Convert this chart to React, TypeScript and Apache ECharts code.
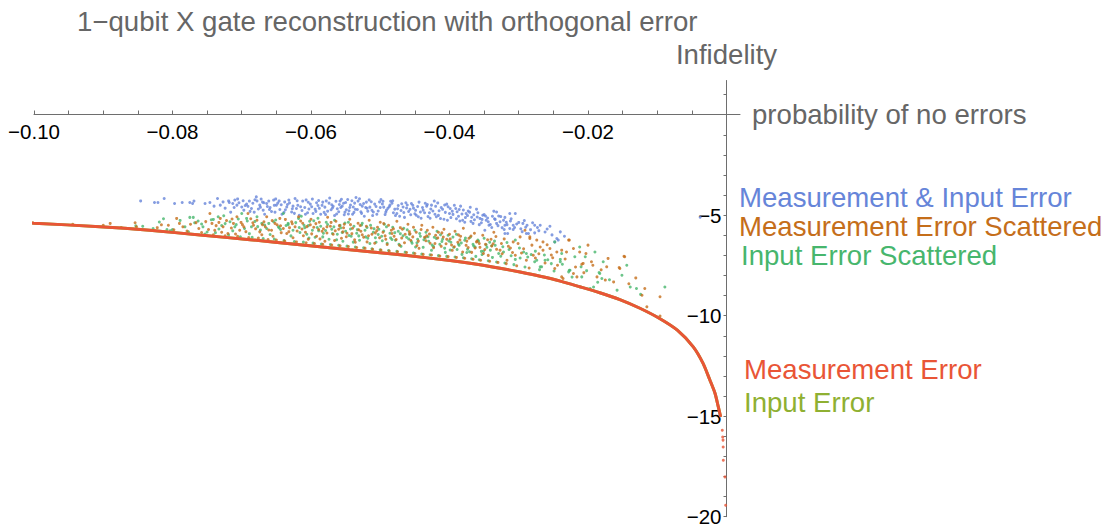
import { useEffect, useRef } from "react";
import * as echarts from "echarts";

// Axis ticks (probability of no errors on x, log infidelity on y)
const xTickValues = [-0.1, -0.095, -0.09, -0.085, -0.08, -0.075, -0.07, -0.065, -0.06, -0.055, -0.05, -0.045, -0.04, -0.035, -0.03, -0.025, -0.02, -0.015, -0.01, -0.005, 0];
const xLabelValues = [-0.1, -0.08, -0.06, -0.04, -0.02];
const yTickValues = [-20, -19, -18, -17, -16, -15, -14, -13, -12, -11, -10, -9, -8, -7, -6, -5, -4, -3, -2, -1, 0, 1];
const yLabelValues = [-20, -15, -10, -5];

// Measurement error only (input error follows the same curve)
const measurementErrorCurve: [number, number][] = [
  [-0.1038, -5.33], [-0.1, -5.4], [-0.0905, -5.57], [-0.0833, -5.75], [-0.076, -5.99], [-0.0688, -6.22],
  [-0.0616, -6.47], [-0.0544, -6.72], [-0.0471, -6.97], [-0.0399, -7.26], [-0.0363, -7.43], [-0.0327, -7.64],
  [-0.0298, -7.83], [-0.0269, -8.04], [-0.024, -8.28], [-0.0212, -8.56], [-0.0183, -8.86], [-0.0154, -9.2],
  [-0.0125, -9.63], [-0.0096, -10.15], [-0.0071, -10.72], [-0.0048, -11.55], [-0.0034, -12.36], [-0.0024, -13.2],
  [-0.00166, -13.86], [-0.00118, -14.54], [-0.00084, -15.03],
];
const measurementErrorTail: [number, number][] = [
  [-0.00061, -15.7], [-0.00055, -16.04], [-0.0005, -16.19], [-0.00048, -16.53], [-0.00046, -17.19],
  [-0.00022, -18.02], [-0.00012, -19.43],
];

const measurementAndInput: [number, number][] = [
  [-0.0846, -4.29], [-0.0826, -4.37], [-0.0821, -4.37], [-0.0812, -4.17], [-0.0797, -4.42], [-0.0786, -4.37],
  [-0.0775, -4.37], [-0.0769, -4.3], [-0.0771, -4.42], [-0.0753, -4.42], [-0.0746, -4.37], [-0.0735, -4.17],
  [-0.074, -4.55], [-0.0731, -4.5], [-0.0727, -4.34], [-0.0719, -4.29], [-0.0713, -4.42], [-0.071, -4.25],
  [-0.0707, -4.5], [-0.07, -4.59], [-0.0693, -4.45], [-0.0686, -4.67], [-0.0679, -4.09], [-0.0678, -4.29],
  [-0.0674, -4.5], [-0.0669, -4.75], [-0.0664, -4.42], [-0.0659, -4.62], [-0.0654, -4.25], [-0.065, -4.5],
  [-0.0645, -4.72], [-0.0638, -4.34], [-0.0635, -4.59], [-0.0628, -4.84], [-0.0623, -4.17], [-0.0621, -4.67],
  [-0.0724, -4.65], [-0.0716, -4.85], [-0.0704, -4.38], [-0.0697, -4.75], [-0.0689, -4.3], [-0.0682, -4.85],
  [-0.0672, -4.2], [-0.0667, -4.95], [-0.0661, -4.3], [-0.0652, -4.85], [-0.0648, -4.4], [-0.0642, -4.95],
  [-0.0632, -4.25], [-0.0626, -4.55], [-0.0617, -5.0],
  [-0.0612, -4.3], [-0.0609, -4.62], [-0.0605, -4.88], [-0.0601, -4.45], [-0.0598, -4.2], [-0.0594, -4.7],
  [-0.059, -4.52], [-0.0586, -4.95], [-0.0583, -4.35], [-0.058, -4.6], [-0.0576, -4.8], [-0.0573, -4.15],
  [-0.057, -4.48], [-0.0566, -5.02], [-0.0562, -4.68], [-0.0558, -4.3], [-0.0555, -4.55], [-0.0551, -4.85],
  [-0.0547, -4.22], [-0.0544, -4.62], [-0.054, -4.95], [-0.0537, -4.4], [-0.0533, -4.72], [-0.053, -4.18],
  [-0.0526, -4.55], [-0.0523, -5.05], [-0.052, -4.35], [-0.0518, -4.8], [-0.0515, -4.6],
  [-0.051, -4.84], [-0.0501, -4.34], [-0.0499, -4.22], [-0.0491, -4.75], [-0.0486, -4.5], [-0.0476, -4.92],
  [-0.0467, -4.59], [-0.0455, -4.42], [-0.0448, -5.0], [-0.0438, -4.75], [-0.0426, -4.5], [-0.0419, -5.08],
  [-0.0412, -4.62], [-0.04, -4.92], [-0.0391, -4.67], [-0.0381, -5.25], [-0.0376, -4.92], [-0.0366, -5.41],
  [-0.0356, -5.16], [-0.0347, -5.25], [-0.0349, -5.75], [-0.0332, -4.84], [-0.0332, -5.41], [-0.0322, -5.25],
  [-0.0316, -5.91], [-0.0305, -4.92], [-0.0308, -5.5], [-0.0288, -5.5], [-0.0286, -5.91], [-0.0269, -5.5],
  [-0.024, -5.83], [-0.0243, -6.24], [-0.0248, -6.33],
  [-0.0327, -5.33], [-0.032, -5.11], [-0.0313, -4.92], [-0.032, -5.5], [-0.0313, -5.66], [-0.0308, -5.71],
  [-0.0294, -5.41], [-0.0277, -5.5], [-0.0289, -5.91], [-0.0277, -5.88], [-0.0245, -6.16], [-0.032, -5.91],
  [-0.0495, -4.6], [-0.0482, -4.28], [-0.0479, -4.7], [-0.0472, -5.05], [-0.0463, -4.38], [-0.0459, -4.82],
  [-0.0452, -4.65], [-0.0444, -4.35], [-0.0441, -5.15], [-0.0433, -4.55], [-0.0429, -4.88], [-0.0422, -4.3],
  [-0.0415, -4.78], [-0.0408, -5.2], [-0.0404, -4.45], [-0.0396, -4.8], [-0.0387, -5.05], [-0.0384, -4.55],
  [-0.0378, -5.35], [-0.0371, -4.85], [-0.0368, -5.1], [-0.0361, -4.7], [-0.0352, -5.0], [-0.0343, -5.5],
  [-0.0338, -5.05], [-0.0336, -4.8], [-0.0038, -5.1],
  [-0.0553, -4.41], [-0.0549, -4.73], [-0.0541, -4.28], [-0.0538, -4.86], [-0.0529, -4.47], [-0.0527, -4.91],
  [-0.0521, -4.62], [-0.0513, -4.33], [-0.0511, -5.02], [-0.0506, -4.57], [-0.0503, -4.79], [-0.0497, -4.44],
  [-0.0493, -4.97], [-0.0489, -4.66], [-0.0485, -4.31], [-0.0481, -4.88], [-0.0474, -4.52], [-0.047, -4.77],
  [-0.0465, -5.11], [-0.0461, -4.49], [-0.0457, -4.71], [-0.045, -4.93], [-0.0446, -4.57], [-0.0442, -4.84],
  [-0.0435, -4.41], [-0.0431, -5.07], [-0.0427, -4.69], [-0.0421, -4.95], [-0.0417, -4.39], [-0.0413, -5.17],
  [-0.0406, -4.86], [-0.0402, -4.58], [-0.0398, -5.12], [-0.0393, -4.51], [-0.0389, -4.83], [-0.0385, -5.29],
  [-0.038, -4.74], [-0.0374, -5.02], [-0.037, -4.61], [-0.0364, -5.23], [-0.0359, -4.88], [-0.0354, -5.38],
  [-0.035, -4.97], [-0.0345, -5.14], [-0.0341, -5.46], [-0.0334, -5.21], [-0.0329, -5.04], [-0.0324, -5.62],
  [-0.0318, -5.35], [-0.0311, -5.18], [-0.0303, -5.44], [-0.0297, -5.68], [-0.0292, -5.27], [-0.0283, -5.72],
  [-0.0273, -5.61], [-0.0262, -5.84], [-0.0255, -5.55], [-0.0234, -6.05],
  [-0.0698, -4.28], [-0.0691, -4.56], [-0.0684, -4.41], [-0.0676, -4.69], [-0.067, -4.35], [-0.0663, -4.57],
  [-0.0657, -4.82], [-0.0651, -4.19], [-0.0643, -4.48], [-0.0637, -4.73], [-0.0631, -4.39], [-0.0624, -4.91],
  [-0.0619, -4.51], [-0.0613, -4.77], [-0.0607, -4.24], [-0.0603, -4.69], [-0.0597, -4.92], [-0.0592, -4.38],
  [-0.0588, -4.66], [-0.0581, -4.86], [-0.0578, -4.29], [-0.0571, -4.73], [-0.0568, -4.56], [-0.0563, -4.94],
  [-0.0559, -4.47], [-0.0556, -4.21], [-0.0552, -4.98], [-0.0545, -4.78], [-0.0539, -4.59], [-0.0535, -4.12],
  [-0.0718, -4.37], [-0.0711, -4.62], [-0.0706, -4.19], [-0.0695, -4.52], [-0.0688, -4.81], [-0.0681, -4.23],
  [-0.0673, -4.61], [-0.0668, -4.38], [-0.066, -4.72], [-0.0653, -4.51], [-0.0646, -4.29], [-0.0639, -4.86],
  [-0.0634, -4.47], [-0.0627, -4.68], [-0.062, -4.28], [-0.0615, -4.58], [-0.0608, -4.95], [-0.0604, -4.36],
  [-0.0599, -4.58], [-0.0593, -4.81], [-0.0589, -4.27], [-0.0584, -4.51], [-0.0579, -4.97], [-0.0574, -4.4],
  [-0.0569, -4.64], [-0.0564, -4.31], [-0.056, -4.83], [-0.0557, -4.62], [-0.055, -4.37], [-0.0546, -4.94],
  [-0.0543, -4.49], [-0.0536, -4.71], [-0.0532, -4.3], [-0.0528, -4.83], [-0.0524, -4.42], [-0.0519, -4.66],
  [-0.0516, -4.24], [-0.0512, -4.76], [-0.0508, -4.45], [-0.0505, -4.95], [-0.05, -4.62], [-0.0496, -4.31],
  [-0.0492, -4.85], [-0.0487, -4.58], [-0.0483, -4.41], [-0.0478, -5.02], [-0.0475, -4.68], [-0.0469, -4.43],
  [-0.0466, -4.87], [-0.0462, -4.64], [-0.0456, -4.98], [-0.0453, -4.51], [-0.0449, -4.76], [-0.0445, -5.08],
  [-0.0439, -4.62], [-0.0436, -4.88], [-0.0432, -4.47], [-0.0428, -5.15], [-0.0424, -4.79], [-0.042, -4.56],
  [-0.0416, -5.01], [-0.041, -4.71], [-0.0407, -4.49], [-0.0403, -5.25], [-0.0399, -4.67], [-0.0395, -4.96],
  [-0.039, -5.18], [-0.0386, -4.72], [-0.0382, -4.94], [-0.0377, -5.12], [-0.0373, -4.79], [-0.0369, -5.31],
  [-0.0365, -4.98], [-0.036, -5.09], [-0.0357, -5.47], [-0.0353, -5.21], [-0.0348, -5.04], [-0.0344, -5.33],
  [-0.0339, -5.61], [-0.0335, -5.18], [-0.033, -5.52], [-0.0326, -5.07], [-0.0321, -5.71], [-0.0317, -5.47],
  [-0.0312, -5.29], [-0.0306, -5.61], [-0.03, -5.36], [-0.0295, -5.82], [-0.029, -5.6], [-0.028, -5.38],
  [-0.0271, -5.77], [-0.0259, -5.69], [-0.0252, -5.98],
];

const measurementScattered: [number, number][] = [
  [-0.0944, -5.45], [-0.09, -5.5], [-0.089, -5.41], [-0.0874, -5.61], [-0.0854, -5.38], [-0.0852, -5.58],
  [-0.0806, -5.5], [-0.0794, -5.16], [-0.0785, -5.58], [-0.0774, -5.45], [-0.0762, -5.66], [-0.0746, -4.92],
  [-0.0743, -5.41], [-0.0739, -5.75], [-0.0731, -5.16], [-0.0727, -5.58], [-0.072, -5.91], [-0.0712, -5.41],
  [-0.0707, -5.08], [-0.0703, -5.75], [-0.0697, -5.58], [-0.0691, -4.92], [-0.0683, -5.5], [-0.0678, -5.25],
  [-0.0674, -5.83], [-0.0666, -5.58], [-0.0664, -5.08], [-0.0657, -5.75], [-0.0652, -5.41], [-0.0645, -5.16],
  [-0.064, -5.66], [-0.0635, -5.91], [-0.0628, -5.33], [-0.0623, -5.58], [-0.0618, -5.08],
  [-0.0612, -5.4], [-0.0608, -5.85], [-0.0604, -6.2], [-0.06, -5.2], [-0.0596, -5.6], [-0.0592, -6.05],
  [-0.0588, -5.35], [-0.0584, -5.8], [-0.058, -6.3], [-0.0576, -5.1], [-0.0572, -5.55], [-0.0568, -5.95],
  [-0.0564, -5.3], [-0.056, -5.7], [-0.0556, -6.15], [-0.0552, -5.45], [-0.0548, -5.9], [-0.0544, -5.2],
  [-0.054, -5.65], [-0.0536, -6.35], [-0.0532, -5.4], [-0.0528, -5.8], [-0.0524, -6.1], [-0.052, -5.55],
  [-0.0516, -5.25], [-0.0512, -5.95], [-0.0508, -6.4], [-0.0504, -5.6], [-0.05, -5.35], [-0.0496, -5.85],
  [-0.0492, -6.2], [-0.0488, -5.5], [-0.0484, -5.75], [-0.048, -6.05], [-0.0476, -5.3], [-0.0472, -6.5],
  [-0.0468, -5.7], [-0.0464, -5.95], [-0.046, -5.45], [-0.0456, -6.25], [-0.0452, -5.6], [-0.0448, -5.85],
  [-0.0444, -6.65], [-0.044, -5.5], [-0.0436, -6.1], [-0.0432, -5.75], [-0.0428, -6.4], [-0.0424, -5.6],
  [-0.042, -6.0], [-0.0416, -5.85], [-0.0412, -6.55], [-0.0408, -5.7], [-0.0404, -6.2], [-0.04, -5.95],
  [-0.0396, -6.75], [-0.0392, -5.8], [-0.0388, -6.35], [-0.0384, -6.05], [-0.038, -5.65], [-0.0376, -6.5],
  [-0.0372, -6.15], [-0.0368, -6.85], [-0.0364, -5.9], [-0.036, -6.3], [-0.0356, -6.6], [-0.0352, -6.0],
  [-0.0348, -6.45], [-0.0344, -7.0], [-0.034, -6.2], [-0.0336, -5.85], [-0.0332, -6.7],
  [-0.0325, -6.41], [-0.0308, -6.33], [-0.0298, -6.08], [-0.0291, -5.75], [-0.0284, -6.16], [-0.0274, -6.24],
  [-0.0265, -6.33], [-0.0255, -6.66], [-0.0245, -6.83], [-0.0228, -6.24], [-0.0221, -6.66], [-0.0212, -6.83],
  [-0.02, -6.49], [-0.0207, -7.4], [-0.0171, -7.15], [-0.0147, -7.07], [-0.0173, -7.57], [-0.0154, -7.65],
  [-0.0187, -8.07], [-0.0175, -8.23], [-0.0238, -8.07], [-0.0236, -8.15], [-0.0216, -8.07], [-0.0317, -7.24],
  [-0.0305, -6.99], [-0.0289, -7.24], [-0.0279, -6.99], [-0.0265, -6.74], [-0.0248, -7.65], [-0.0118, -8.65],
  [-0.0096, -9.06], [-0.0115, -9.56], [-0.0122, -8.98], [-0.0231, -6.83], [-0.0203, -6.91], [-0.0148, -7.04],
  [-0.0195, -7.32], [-0.0155, -7.6], [-0.0209, -7.44], [-0.0221, -7.9], [-0.0096, -10.02], [-0.0284, -6.08],
  [-0.0269, -6.58], [-0.0238, -6.74], [-0.0227, -6.24],
  [-0.0752, -5.32], [-0.0748, -5.71], [-0.0737, -5.52], [-0.0729, -5.85], [-0.0722, -5.27], [-0.0715, -5.64],
  [-0.0709, -5.94], [-0.0701, -5.36], [-0.0694, -5.82], [-0.0687, -5.18], [-0.068, -5.68], [-0.0671, -5.97],
  [-0.0668, -5.33], [-0.0661, -5.74], [-0.0655, -6.05], [-0.0649, -5.48], [-0.0643, -5.87], [-0.0637, -5.21],
  [-0.0631, -5.62], [-0.0626, -6.12], [-0.062, -5.79], [-0.0615, -5.29], [-0.0611, -6.02], [-0.0606, -5.57],
  [-0.0599, -5.93], [-0.0593, -5.42], [-0.0587, -6.18], [-0.0582, -5.68], [-0.0577, -5.89], [-0.0571, -5.36],
  [-0.0566, -6.26], [-0.0559, -5.52], [-0.0554, -5.83], [-0.0549, -6.07], [-0.0543, -5.47], [-0.0537, -6.22],
  [-0.0531, -5.73], [-0.0526, -5.97], [-0.0519, -6.33], [-0.0513, -5.64], [-0.0507, -5.88], [-0.0501, -6.12],
  [-0.0495, -5.42], [-0.049, -6.46], [-0.0483, -5.91], [-0.0477, -6.21], [-0.0471, -5.62], [-0.0465, -6.37],
  [-0.0458, -5.82], [-0.0453, -6.08], [-0.0447, -6.51], [-0.0441, -5.71], [-0.0434, -6.27], [-0.0429, -5.94],
  [-0.0423, -6.62], [-0.0417, -6.13], [-0.0411, -5.88], [-0.0405, -6.42], [-0.0399, -6.18], [-0.0393, -6.57],
  [-0.0387, -5.98], [-0.0381, -6.83], [-0.0375, -6.29], [-0.0369, -6.04], [-0.0363, -6.63], [-0.0357, -6.41],
  [-0.0351, -6.91], [-0.0345, -6.22], [-0.0339, -6.53], [-0.0333, -6.06], [-0.0327, -6.74], [-0.0321, -6.18],
  [-0.0315, -6.55], [-0.0309, -6.86], [-0.0301, -6.41], [-0.0293, -6.67], [-0.0281, -6.49], [-0.0271, -6.92],
  [-0.0259, -6.47], [-0.0251, -7.12],
  [-0.0822, -5.62], [-0.0816, -5.48], [-0.0798, -5.73], [-0.079, -5.41], [-0.0779, -5.79], [-0.0766, -5.37],
  [-0.0758, -5.86], [-0.0741, -5.97], [-0.0733, -5.36], [-0.0724, -6.02], [-0.0714, -5.19], [-0.0706, -6.05],
  [-0.0699, -5.47], [-0.069, -6.11], [-0.0684, -5.38], [-0.0676, -6.14], [-0.067, -5.47], [-0.0662, -6.21],
  [-0.0656, -5.27], [-0.065, -6.24], [-0.0644, -5.53], [-0.0638, -6.29], [-0.0632, -5.82], [-0.0627, -5.43],
  [-0.0621, -6.33], [-0.0613, -5.69], [-0.0607, -6.37], [-0.0601, -5.48], [-0.0595, -6.41], [-0.0589, -5.71],
  [-0.0583, -6.45], [-0.0577, -5.58], [-0.057, -6.48], [-0.0565, -5.78], [-0.0558, -6.52], [-0.0553, -5.63],
  [-0.0546, -6.56], [-0.0541, -5.92], [-0.0534, -6.61], [-0.0529, -5.51], [-0.0522, -6.64], [-0.0517, -6.02],
  [-0.0511, -6.7], [-0.0505, -5.77], [-0.0499, -6.74], [-0.0493, -6.03], [-0.0487, -6.78], [-0.0481, -5.68],
  [-0.0475, -6.82], [-0.0469, -6.14], [-0.0462, -6.86], [-0.0457, -5.93], [-0.045, -6.91], [-0.0445, -6.29],
  [-0.0438, -6.95], [-0.0433, -6.03], [-0.0426, -6.98], [-0.0421, -6.41], [-0.0414, -7.03], [-0.0409, -6.09],
  [-0.0402, -7.06], [-0.0397, -6.48], [-0.039, -7.1], [-0.0385, -6.23], [-0.0378, -7.14], [-0.0373, -6.61],
  [-0.0366, -7.19], [-0.0361, -6.33], [-0.0355, -7.24], [-0.0349, -6.71], [-0.0342, -7.29], [-0.0337, -6.42],
  [-0.033, -7.35], [-0.0324, -6.92], [-0.0318, -7.41], [-0.0312, -6.63], [-0.0303, -7.52], [-0.0296, -6.88],
  [-0.0285, -7.63], [-0.0276, -7.13], [-0.0262, -7.38], [-0.0253, -6.98], [-0.0244, -7.49], [-0.0233, -7.18],
  [-0.0218, -7.58], [-0.0206, -7.86], [-0.0193, -7.49], [-0.0181, -7.72], [-0.0163, -8.32], [-0.0141, -8.41],
  [-0.0131, -8.12],
];

const inputScattered: [number, number][] = [
  [-0.0853, -5.53], [-0.0843, -5.55], [-0.0813, -5.18], [-0.0808, -5.71], [-0.08, -5.71], [-0.0782, -5.58],
  [-0.0775, -5.11], [-0.077, -5.11], [-0.0768, -5.38], [-0.0756, -5.58], [-0.0741, -5.21], [-0.0734, -5.08],
  [-0.0726, -5.03], [-0.0717, -5.33], [-0.071, -5.58], [-0.07, -4.92], [-0.0693, -5.16], [-0.0686, -5.58],
  [-0.0678, -5.08], [-0.0671, -5.41], [-0.0664, -5.66], [-0.0654, -5.33], [-0.0647, -5.58], [-0.064, -4.92],
  [-0.0633, -5.41], [-0.0626, -5.75], [-0.0618, -5.16],
  [-0.0614, -5.05], [-0.061, -5.5], [-0.0606, -5.95], [-0.0602, -5.3], [-0.0598, -5.75], [-0.0594, -6.1],
  [-0.059, -5.15], [-0.0586, -5.55], [-0.0582, -5.9], [-0.0578, -5.35], [-0.0574, -6.2], [-0.057, -5.7],
  [-0.0566, -5.25], [-0.0562, -5.95], [-0.0558, -5.5], [-0.0554, -6.3], [-0.055, -5.8], [-0.0546, -5.35],
  [-0.0542, -6.05], [-0.0538, -5.55], [-0.0534, -5.9], [-0.053, -6.25], [-0.0526, -5.4], [-0.0522, -5.75],
  [-0.0518, -6.15], [-0.0514, -5.5], [-0.051, -5.85], [-0.0506, -6.35], [-0.0502, -5.7], [-0.0498, -6.05],
  [-0.0494, -5.45], [-0.049, -6.4], [-0.0486, -5.9], [-0.0482, -5.6], [-0.0478, -6.25], [-0.0474, -5.8],
  [-0.047, -6.55], [-0.0466, -5.65], [-0.0462, -6.1], [-0.0458, -5.95], [-0.0454, -6.4], [-0.045, -5.75],
  [-0.0446, -6.2], [-0.0442, -6.05], [-0.0438, -6.6], [-0.0434, -5.85], [-0.043, -6.3], [-0.0426, -6.75],
  [-0.0422, -6.1], [-0.0418, -5.8], [-0.0414, -6.45], [-0.041, -6.2], [-0.0406, -6.85], [-0.0402, -6.0],
  [-0.0398, -6.35], [-0.0394, -6.6], [-0.039, -5.95], [-0.0386, -6.5], [-0.0382, -6.95], [-0.0378, -6.25],
  [-0.0374, -6.7], [-0.037, -6.1], [-0.0366, -6.45], [-0.0362, -7.05], [-0.0358, -6.3], [-0.0354, -6.8],
  [-0.035, -6.15], [-0.0346, -6.6], [-0.0342, -6.35], [-0.0338, -7.1], [-0.0334, -6.5],
  [-0.0322, -6.83], [-0.0305, -7.2], [-0.0293, -6.83], [-0.0277, -7.32], [-0.0267, -7.57], [-0.0262, -7.24],
  [-0.024, -7.32], [-0.0238, -6.91], [-0.0226, -7.74], [-0.0212, -6.58], [-0.0204, -7.07], [-0.019, -6.83],
  [-0.0178, -7.32], [-0.0183, -7.9], [-0.0151, -7.99], [-0.0144, -7.49], [-0.0139, -8.57], [-0.013, -8.65],
  [-0.0089, -8.57], [-0.0197, -8.65], [-0.0209, -8.07], [-0.0228, -7.82], [-0.0305, -6.24], [-0.0289, -6.91],
  [-0.0274, -7.24], [-0.0269, -7.57], [-0.0248, -6.33], [-0.0227, -7.74], [-0.021, -7.57], [-0.0192, -8.57],
  [-0.0184, -7.85], [-0.018, -8.15], [-0.0219, -7.07], [-0.024, -7.2],
  [-0.0758, -5.44], [-0.075, -5.84], [-0.0744, -5.23], [-0.0733, -5.69], [-0.0724, -5.42], [-0.0713, -5.78],
  [-0.0705, -5.19], [-0.0696, -5.66], [-0.0689, -5.92], [-0.0681, -5.31], [-0.0673, -5.74], [-0.0667, -5.49],
  [-0.0659, -5.96], [-0.0651, -5.24], [-0.0644, -5.71], [-0.0636, -5.51], [-0.0629, -6.03], [-0.0622, -5.37],
  [-0.0616, -5.86], [-0.0609, -5.62], [-0.0603, -6.14], [-0.0596, -5.28], [-0.0589, -5.78], [-0.0583, -6.08],
  [-0.0576, -5.46], [-0.0569, -5.91], [-0.0563, -6.22], [-0.0557, -5.63], [-0.0551, -5.39], [-0.0545, -6.01],
  [-0.0539, -6.34], [-0.0533, -5.72], [-0.0527, -5.49], [-0.0521, -6.08], [-0.0515, -6.41], [-0.0509, -5.67],
  [-0.0503, -5.96], [-0.0497, -6.27], [-0.0491, -5.58], [-0.0485, -6.13], [-0.0479, -5.87], [-0.0473, -6.45],
  [-0.0467, -6.02], [-0.0461, -5.73], [-0.0455, -6.31], [-0.0449, -6.58], [-0.0443, -5.91], [-0.0437, -6.22],
  [-0.0431, -6.07], [-0.0425, -6.49], [-0.0419, -6.16], [-0.0413, -5.97], [-0.0407, -6.64], [-0.0401, -6.28],
  [-0.0395, -6.09], [-0.0389, -6.71], [-0.0383, -6.38], [-0.0377, -6.14], [-0.0371, -6.82], [-0.0365, -6.53],
  [-0.0359, -6.24], [-0.0353, -6.96], [-0.0347, -6.47], [-0.0341, -6.74], [-0.0335, -6.29], [-0.0329, -6.91],
  [-0.0323, -6.57], [-0.0317, -6.36], [-0.0311, -7.02], [-0.0299, -6.63], [-0.0287, -7.08], [-0.0276, -6.79],
  [-0.0263, -6.98], [-0.0253, -7.41],
  [-0.0828, -5.66], [-0.0819, -5.34], [-0.0803, -5.77], [-0.0789, -5.26], [-0.0777, -5.83], [-0.0763, -5.29],
  [-0.0753, -5.94], [-0.0738, -5.87], [-0.0729, -5.51], [-0.0719, -5.98], [-0.0708, -5.47], [-0.0702, -6.07],
  [-0.0692, -5.29], [-0.0685, -6.1], [-0.0677, -5.57], [-0.0669, -6.16], [-0.0661, -5.41], [-0.0653, -6.19],
  [-0.0646, -5.63], [-0.0639, -6.26], [-0.0633, -5.47], [-0.0624, -6.31], [-0.0617, -5.61], [-0.0611, -6.34],
  [-0.0604, -5.52], [-0.0597, -6.39], [-0.0591, -5.61], [-0.0585, -6.43], [-0.0579, -5.76], [-0.0572, -6.46],
  [-0.0567, -5.58], [-0.056, -6.5], [-0.0555, -5.86], [-0.0548, -6.54], [-0.0543, -5.69], [-0.0536, -6.58],
  [-0.0531, -6.03], [-0.0524, -6.62], [-0.0519, -5.61], [-0.0512, -6.67], [-0.0507, -6.12], [-0.05, -6.72],
  [-0.0495, -5.79], [-0.0488, -6.76], [-0.0483, -6.21], [-0.0476, -6.8], [-0.0471, -5.92], [-0.0464, -6.84],
  [-0.0459, -6.18], [-0.0452, -6.88], [-0.0447, -6.37], [-0.044, -6.93], [-0.0435, -6.12], [-0.0428, -6.97],
  [-0.0423, -6.56], [-0.0416, -7.01], [-0.0411, -6.31], [-0.0404, -7.05], [-0.0399, -6.73], [-0.0392, -7.08],
  [-0.0387, -6.44], [-0.038, -7.12], [-0.0375, -6.86], [-0.0368, -7.17], [-0.0363, -6.59], [-0.0357, -7.22],
  [-0.0351, -6.79], [-0.0344, -7.27], [-0.0339, -6.52], [-0.0332, -7.33], [-0.0326, -7.04], [-0.032, -7.38],
  [-0.0314, -6.71], [-0.0307, -7.46], [-0.0298, -7.13], [-0.0291, -7.58], [-0.0282, -6.96], [-0.027, -7.71],
  [-0.0258, -7.22], [-0.0249, -7.78], [-0.0237, -7.44], [-0.0223, -8.08], [-0.0202, -7.76], [-0.0186, -8.34],
  [-0.0169, -8.21], [-0.0158, -8.73], [-0.0124, -8.94],
];

const FONT = '"Liberation Sans", Arial, Helvetica, sans-serif';
const LABEL_GRAY = "#666666";
const AXIS_GRAY = "#6e6e6e";
const LABEL_SIZE = 27.6;

const COLORS = {
  measInput: "#6685D9",
  measScattered: "#C56E1A",
  inputScattered: "#47B66D",
  measurement: "#E95536",
  input: "#8FB032",
};

const legendLabels = [
  { text: "Measurement & Input Error", color: COLORS.measInput, x: 739, y: 197 },
  { text: "Measurement Error Scattered", color: COLORS.measScattered, x: 739, y: 226 },
  { text: "Input Error Scattered", color: COLORS.inputScattered, x: 741, y: 255 },
  { text: "Measurement Error", color: COLORS.measurement, x: 744, y: 369 },
  { text: "Input Error", color: COLORS.input, x: 744, y: 402 },
];

// Plot frame: the axes cross at the origin, inside the grid rectangle
const GRID = { left: 34, right: 371, top: 80.5, bottom: 10.3 };
const ORIGIN_PX = { x: 726.5, y: 114.5 };
const CHART_H = 527;

const minus = (s: string) => s.replace("-", "\u2212");

export default function App() {
  const ref = useRef<HTMLDivElement>(null);

  useEffect(() => {
    if (!ref.current) return;
    const chart = echarts.init(ref.current, undefined, { renderer: "svg" });

    const dotSeries = (name: string, data: [number, number][], color: string) => ({
      name,
      type: "scatter" as const,
      data,
      symbol: "circle",
      symbolSize: 3,
      clip: false,
      itemStyle: { color },
      emphasis: { disabled: true },
    });

    const curveSeries = (name: string, color: string) => ({
      name,
      type: "line" as const,
      data: measurementErrorCurve,
      smooth: 0.25,
      showSymbol: false,
      clip: false,
      lineStyle: { color, width: 3 },
      emphasis: { disabled: true },
    });

    const gridBottomPx = CHART_H - GRID.bottom;

    chart.setOption({
      animation: false,
      backgroundColor: "#ffffff",
      textStyle: { fontFamily: FONT },
      grid: { ...GRID, containLabel: false, outerBoundsMode: "none" },
      xAxis: {
        type: "value",
        position: "bottom",
        offset: ORIGIN_PX.y - gridBottomPx,
        min: -0.1,
        max: 0.00195,
        name: "probability of no errors",
        nameLocation: "end",
        nameGap: 12,
        nameTextStyle: { color: LABEL_GRAY, fontSize: LABEL_SIZE, fontFamily: FONT, verticalAlign: "middle" },
        axisLine: { onZero: false, lineStyle: { color: AXIS_GRAY, width: 1 } },
        axisTick: { inside: true, length: 4, customValues: xTickValues, lineStyle: { color: AXIS_GRAY } },
        axisLabel: {
          customValues: xLabelValues,
          color: "#000000",
          fontSize: 20.5,
          fontFamily: FONT,
          margin: 6,
          formatter: (v: number) => minus(v.toFixed(2)),
        },
        splitLine: { show: false },
      },
      yAxis: {
        type: "value",
        position: "left",
        offset: GRID.left - ORIGIN_PX.x,
        min: -20,
        max: 1.7,
        name: "Infidelity",
        nameLocation: "end",
        nameGap: 12,
        nameTextStyle: { color: LABEL_GRAY, fontSize: LABEL_SIZE, fontFamily: FONT, align: "center" },
        axisLine: { onZero: false, lineStyle: { color: AXIS_GRAY, width: 1 } },
        axisTick: { inside: false, length: 3, customValues: yTickValues, lineStyle: { color: AXIS_GRAY } },
        axisLabel: {
          customValues: yLabelValues,
          color: "#000000",
          fontSize: 20.5,
          fontFamily: FONT,
          margin: 5,
          formatter: (v: number) => minus(String(v)),
        },
        splitLine: { show: false },
      },
      graphic: [
        {
          type: "text",
          x: 77,
          y: 21,
          silent: true,
          style: {
            text: "1\u2212qubit X gate reconstruction with orthogonal error",
            fill: LABEL_GRAY,
            fontSize: LABEL_SIZE,
            fontFamily: FONT,
            verticalAlign: "middle",
          },
        },
        ...legendLabels.map((l) => ({
          type: "text",
          x: l.x,
          y: l.y,
          silent: true,
          style: { text: l.text, fill: l.color, fontSize: LABEL_SIZE, fontFamily: FONT, verticalAlign: "middle" },
        })),
      ],
      series: [
        curveSeries("Input Error", COLORS.input),
        curveSeries("Measurement Error", COLORS.measurement),
        dotSeries("Measurement Error tail", measurementErrorTail, COLORS.measurement),
        dotSeries("Measurement & Input Error", measurementAndInput, COLORS.measInput),
        dotSeries("Input Error Scattered", inputScattered, COLORS.inputScattered),
        dotSeries("Measurement Error Scattered", measurementScattered, COLORS.measScattered),
      ],
    });

    return () => chart.dispose();
  }, []);

  return <div ref={ref} style={{ position: "fixed", left: 0, top: 0, width: 1111, height: 527 }} />;
}
